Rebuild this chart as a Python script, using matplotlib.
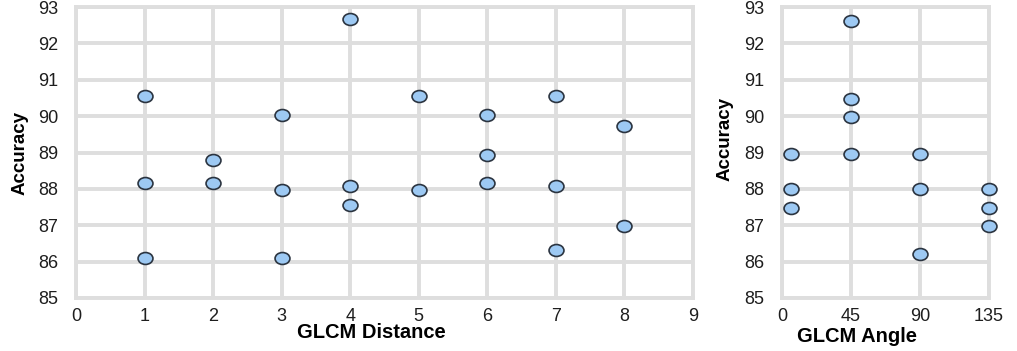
import matplotlib
matplotlib.use("Agg")
import matplotlib.pyplot as plt
from matplotlib.path import Path
from matplotlib.transforms import Affine2D

plt.rcParams['font.family'] = ['Liberation Sans', 'DejaVu Sans']

# GLCM Distance panel
dist_x = [1, 1, 1, 2, 2, 3, 3, 3, 4, 4, 4, 5, 5, 6, 6, 6, 7, 7, 7, 8, 8]
dist_y = [90.55, 88.17, 86.1, 88.8, 88.17, 90.02, 87.97, 86.1, 92.68, 88.07, 87.57,
          90.55, 87.97, 90.02, 88.93, 88.17, 90.55, 88.07, 86.33, 89.73, 86.97]

# GLCM Angle panel
angle_x = [6, 6, 6, 45, 45, 45, 45, 90, 90, 90, 135, 135, 135]
angle_y = [88.95, 88.0, 87.48, 92.62, 90.48, 89.97, 88.95, 88.95, 88.0, 86.22, 88.0, 87.48, 86.97]

dist_ticks = list(range(0, 10))
angle_ticks = [0, 45, 90, 135]
acc_ticks = list(range(85, 94))

W, H = 1017, 351
fig = plt.figure(figsize=(W / 100, H / 100), dpi=100)

def px_axes(x0, x1, y0, y1):
    return fig.add_axes([x0 / W, 1 - y1 / H, (x1 - x0) / W, (y1 - y0) / H])

ax1 = px_axes(76, 693, 7, 298)
ax2 = px_axes(782, 989, 7, 298)

ell = Path.unit_circle().transformed(Affine2D().scale(1.0, 0.8))

grid_c = '#dedede'
fill_c = '#9dc9f3'
edge_c = '#2b3440'

def style(ax, xticks, xlim):
    ax.set_xlim(*xlim)
    ax.set_ylim(85, 93)
    ax.set_xticks(xticks)
    ax.set_yticks(acc_ticks)
    ax.grid(True, color=grid_c, linewidth=2.8, zorder=0)
    ax.set_axisbelow(True)
    for s in ax.spines.values():
        s.set_color(grid_c)
        s.set_linewidth(2.8)
    ax.tick_params(length=0, labelsize=13, colors='#1e1e1e')
    ax.tick_params(axis='x', pad=7)
    ax.tick_params(axis='y', pad=13)

style(ax1, dist_ticks, (0, 9))
style(ax2, angle_ticks, (0, 135))

ax1.scatter(dist_x, dist_y, marker=ell, s=115, facecolor=fill_c, edgecolor=edge_c,
            linewidth=1.2, zorder=3, clip_on=False)
ax2.scatter(angle_x, angle_y, marker=ell, s=115, facecolor=fill_c, edgecolor=edge_c,
            linewidth=1.2, zorder=3, clip_on=False)

ax1.set_xlabel('GLCM Distance', fontsize=14.5, fontweight='bold', va='center')
ax1.xaxis.set_label_coords(0.478, -0.12)
ax1.set_ylabel('Accuracy', fontsize=13.5, fontweight='bold', va='center')
ax1.yaxis.set_label_coords(-0.091, 0.50)

ax2.set_xlabel('GLCM Angle', fontsize=14.5, fontweight='bold', va='center')
ax2.xaxis.set_label_coords(0.362, -0.132)
ax2.set_ylabel('Accuracy', fontsize=13.5, fontweight='bold', va='center')
ax2.yaxis.set_label_coords(-0.275, 0.546)

fig.savefig('out.png', dpi=100)
